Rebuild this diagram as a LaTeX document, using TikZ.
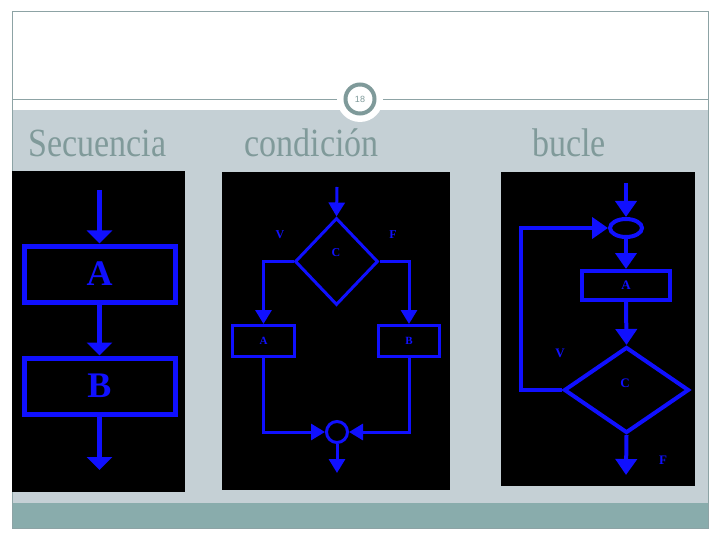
\documentclass[tikz,border=0pt]{standalone}
\usepackage{fontspec}
\setmainfont{Liberation Serif}
\newfontfamily\numfont{Liberation Sans}
\usetikzlibrary{arrows.meta,shapes.geometric}
\definecolor{bandgray}{HTML}{C5D0D5}
\definecolor{tealband}{HTML}{89ACAC}
\definecolor{framegray}{HTML}{8DA3A5}
\definecolor{titlegray}{HTML}{809A9A}
\definecolor{ringgray}{HTML}{7F9A9A}
\definecolor{fblue}{HTML}{1010FF}
\tikzset{
  title/.style={text=titlegray, font=\fontsize{40}{40}\selectfont, anchor=base, xscale=0.85},
  panel/.style={fill=black, draw=none},
  boxone/.style={draw=fblue, line width=5pt, minimum width=151pt, minimum height=56pt, inner sep=0pt,
    text=fblue, font=\bfseries\fontsize{36}{36}\selectfont},
  arrone/.style={draw=fblue, line width=4.5pt, -{Triangle[width=25pt,length=13pt]}},
  boxtwo/.style={draw=fblue, line width=3pt, minimum height=31pt, inner sep=0pt,
    text=fblue, font=\bfseries\fontsize{11}{11}\selectfont},
  arrtwo/.style={draw=fblue, line width=3pt, -{Triangle[width=16pt,length=14pt]}},
  linetwo/.style={draw=fblue, line width=3pt},
  boxthree/.style={draw=fblue, line width=4pt, minimum width=88pt, minimum height=29pt, inner sep=0pt,
    text=fblue, font=\bfseries\fontsize{13}{13}\selectfont},
  arrthree/.style={draw=fblue, line width=4pt, -{Triangle[width=21pt,length=16pt]}},
  letter/.style={text=fblue, font=\bfseries\fontsize{12}{12}\selectfont, inner sep=0pt},
}
\begin{document}
\begin{tikzpicture}[x=1pt,y=-1pt]
\useasboundingbox (0,0) rectangle (720,540);
\fill[white] (0,0) rectangle (720,540);
% background bands
\fill[bandgray] (12,110) rectangle (708,503);
\fill[tealband] (12,503) rectangle (708,528);
\draw[framegray, line width=1pt] (12,12) rectangle (708,528);
\draw[framegray, line width=1pt] (12,100) -- (708,100);
% slide number
\fill[white] (360,99) circle (23);
\draw[ringgray, line width=4pt, fill=white] (360,99) circle (14.5);
\node[text=ringgray, font=\numfont\fontsize{9}{9}\selectfont, inner sep=0pt] (num) at (360,99) {18};
% titles
\node[title] (t1) at (97.5,157) {Secuencia};
\node[title] (t2) at (311.5,157) {condición};
\node[title] (t3) at (569,157) {bucle};
% panels
\fill[panel] (12,171) rectangle (185,492);
\fill[panel] (222,172) rectangle (450,490);
\fill[panel] (501,172) rectangle (695,486);

% ---------- Panel 1: secuencia
\coordinate (s1in) at (99.5,190);
\coordinate (s1out) at (99.5,470);
\node[boxone] (A1) at (99.5,274) {A};
\node[boxone] (B1) at (99.5,386) {B};
\draw[arrone] (s1in) -- (A1.north);
\draw[arrone] (A1.south) -- (B1.north);
\draw[arrone] (B1.south) -- (s1out);

% ---------- Panel 2: condicion
\coordinate (c2in) at (337,187);
\coordinate (c2out) at (337,473);
\node[diamond, draw=fblue, line width=3pt, minimum width=83pt, minimum height=87pt, inner sep=0pt] (D2) at (336.5,261.5) {};
\node[letter] (C2) at (336,253) {C};
\node[letter] (V2) at (280,235) {V};
\node[letter] (F2) at (393,235) {F};
\node[boxtwo, minimum width=62pt] (A2) at (263.5,341) {A};
\node[boxtwo, minimum width=61pt] (B2) at (409,341) {B};
\node[circle, draw=fblue, line width=3pt, minimum size=21pt, inner sep=0pt] (M2) at (337,432) {};
\draw[arrtwo] (c2in) -- (D2.north);
\draw[arrtwo] (D2.west) -| (A2.north);
\draw[arrtwo] (D2.east) -| (B2.north);
\draw[arrtwo] (A2.south) |- (M2.west);
\draw[arrtwo] (B2.south) |- (M2.east);
\draw[arrtwo] (M2.south) -- (c2out);

% ---------- Panel 3: bucle
\coordinate (b3in) at (626,183);
\coordinate (b3out) at (626,475);
\coordinate (L3) at (521,390);
\node[ellipse, draw=fblue, line width=4pt, minimum width=32pt, minimum height=18pt, inner sep=0pt] (E3) at (626,228) {};
\node[boxthree] (A3) at (626,285.5) {A};
\node[diamond, draw=fblue, line width=4pt, minimum width=125pt, minimum height=86pt, inner sep=0pt] (D3) at (626.5,390) {};
\node[letter, font=\bfseries\fontsize{13}{13}\selectfont] (C3) at (625,383) {C};
\node[letter, font=\bfseries\fontsize{13}{13}\selectfont] (V3) at (560,353) {V};
\node[letter, font=\bfseries\fontsize{13}{13}\selectfont] (F3) at (663,460) {F};
\draw[arrthree] (b3in) -- (E3.north);
\draw[arrthree] (E3.south) -- (A3.north);
\draw[arrthree] (A3.south) -- (D3.north);
\draw[arrthree] (D3.west) -- (L3) |- (E3.west);
\draw[arrthree] (D3.south) -- (b3out);
\end{tikzpicture}
\end{document}
